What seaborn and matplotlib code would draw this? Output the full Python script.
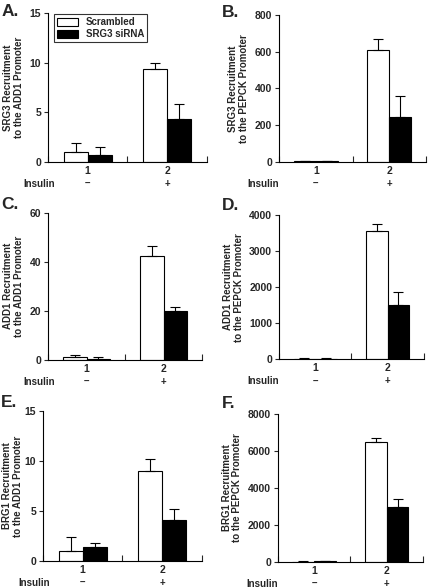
import pandas as pd
import matplotlib.pyplot as plt
import seaborn as sns

# Categories / conditions
groups = ['1', '2']
conditions = ['Scrambled', 'SRG3 siRNA']
insulin = ['\u2013', '+']

# Panel values (mean, upper error)
a_scr, a_scr_err = [1.0, 9.4], [0.9, 0.6]
a_si, a_si_err = [0.7, 4.3], [0.8, 1.5]

b_scr, b_scr_err = [5, 612], [2, 60]
b_si, b_si_err = [5, 245], [2, 112]

c_scr, c_scr_err = [1.0, 42.2], [1.0, 4.4]
c_si, c_si_err = [0.5, 19.9], [0.5, 1.7]

d_scr, d_scr_err = [20, 3560], [8, 205]
d_si, d_si_err = [15, 1515], [8, 355]

e_scr, e_scr_err = [1.0, 9.0], [1.4, 1.2]
e_si, e_si_err = [1.4, 4.1], [0.35, 1.05]

f_scr, f_scr_err = [30, 6490], [10, 220]
f_si, f_si_err = [40, 2980], [10, 420]

ylabels = ['SRG3 Recruitment\nto the ADD1 Promoter',
           'SRG3 Recruitment\nto the PEPCK Promoter',
           'ADD1 Recruitment\nto the ADD1 Promoter',
           'ADD1 Recruitment\nto the PEPCK Promoter',
           'BRG1 Recruitment\nto the ADD1 Promoter',
           'BRG1 Recruitment\nto the PEPCK Promoter']
letters = ['A.', 'B.', 'C.', 'D.', 'E.', 'F.']
yticks = [[0, 5, 10, 15], [0, 200, 400, 600, 800], [0, 20, 40, 60],
          [0, 1000, 2000, 3000, 4000], [0, 5, 10, 15], [0, 2000, 4000, 6000, 8000]]

panels = [(a_scr, a_scr_err, a_si, a_si_err), (b_scr, b_scr_err, b_si, b_si_err),
          (c_scr, c_scr_err, c_si, c_si_err), (d_scr, d_scr_err, d_si, d_si_err),
          (e_scr, e_scr_err, e_si, e_si_err), (f_scr, f_scr_err, f_si, f_si_err)]

# axes rectangles (left, bottom, width, height) in figure fraction
rects = [(0.111, 0.7245, 0.368, 0.2535), (0.646, 0.7245, 0.340, 0.250),
         (0.111, 0.388, 0.357, 0.250), (0.646, 0.389, 0.335, 0.245),
         (0.0995, 0.046, 0.368, 0.255), (0.6435, 0.044, 0.3355, 0.252)]
letter_pos = [(0.003, 0.981), (0.513, 0.979), (0.003, 0.653), (0.513, 0.650),
              (0.003, 0.315), (0.513, 0.313)]
label_pads = [4, 4, 4, 4, 1, 4]

sns.set_style('ticks')
plt.rcParams['font.family'] = ['Liberation Sans', 'DejaVu Sans']
plt.rcParams['font.weight'] = 'bold'
plt.rcParams['font.size'] = 7

fig = plt.figure(figsize=(4.32, 5.88), dpi=100)

for i, (scr, scr_err, si, si_err) in enumerate(panels):
    ax = fig.add_axes(rects[i])
    df = pd.DataFrame({
        'group': groups * 2,
        'condition': [conditions[0]] * 2 + [conditions[1]] * 2,
        'value': scr + si,
    })
    sns.barplot(data=df, x='group', y='value', hue='condition',
                palette=['white', 'black'], edgecolor='black', linewidth=0.8,
                width=0.6, errorbar=None, legend=(i == 0), ax=ax)

    for cont, errs in zip(ax.containers, [scr_err, si_err]):
        for bar, e in zip(cont, errs):
            x = bar.get_x() + bar.get_width() / 2
            h = bar.get_height()
            ax.errorbar(x, h, yerr=[[0], [e]], fmt='none', ecolor='black',
                        elinewidth=0.8, capsize=3.8, capthick=0.8)

    ax.set_xlim(-0.5, 1.5)
    ax.set_ylim(0, yticks[i][-1])
    ax.set_yticks(yticks[i])
    ax.set_yticklabels([str(t) for t in yticks[i]], fontweight='bold', fontsize=7.5)
    ax.set_xticks([0, 1])
    ax.set_xticklabels(groups, fontweight='bold', fontsize=7.5)
    ax.tick_params(axis='x', length=0, pad=3)
    ax.tick_params(axis='y', length=3, width=0.8, pad=2)
    ax.set_xticks([-0.5, 0.5, 1.5], minor=True)
    ax.tick_params(axis='x', which='minor', direction='in', length=4, width=0.8)
    ax.set_xlabel('')
    ax.set_ylabel(ylabels[i], fontweight='bold', fontsize=7, labelpad=label_pads[i],
                  linespacing=1.1)
    sns.despine(ax=ax)
    for s in ['left', 'bottom']:
        ax.spines[s].set_linewidth(0.8)
        ax.spines[s].set_color('black')

    # insulin row
    for j, sign in enumerate(insulin):
        ax.annotate(sign, xy=(j, 0), xycoords=('data', 'axes fraction'),
                    xytext=(0, -16), textcoords='offset points',
                    ha='center', va='center', fontsize=7, fontweight='bold')
    ax.annotate('Insulin', xy=(0, 0), xycoords='axes fraction',
                xytext=(5 if i % 2 == 0 else 0, -16), textcoords='offset points',
                ha='right', va='center', fontsize=7, fontweight='bold')

    fig.text(letter_pos[i][0], letter_pos[i][1], letters[i], fontsize=12.5,
             fontweight='bold', ha='left', va='center')

    if i == 0:
        leg = ax.legend(loc='upper left', bbox_to_anchor=(0.038, 0.99),
                        frameon=True, fancybox=False, fontsize=7,
                        handlelength=2.2, handleheight=0.8,
                        borderpad=0.3, labelspacing=0.2, handletextpad=0.8,
                        borderaxespad=0)
        leg.get_frame().set_edgecolor('black')
        leg.get_frame().set_linewidth(0.8)
        for t in leg.get_texts():
            t.set_fontweight('bold')

fig.savefig('out.png', dpi=100)
